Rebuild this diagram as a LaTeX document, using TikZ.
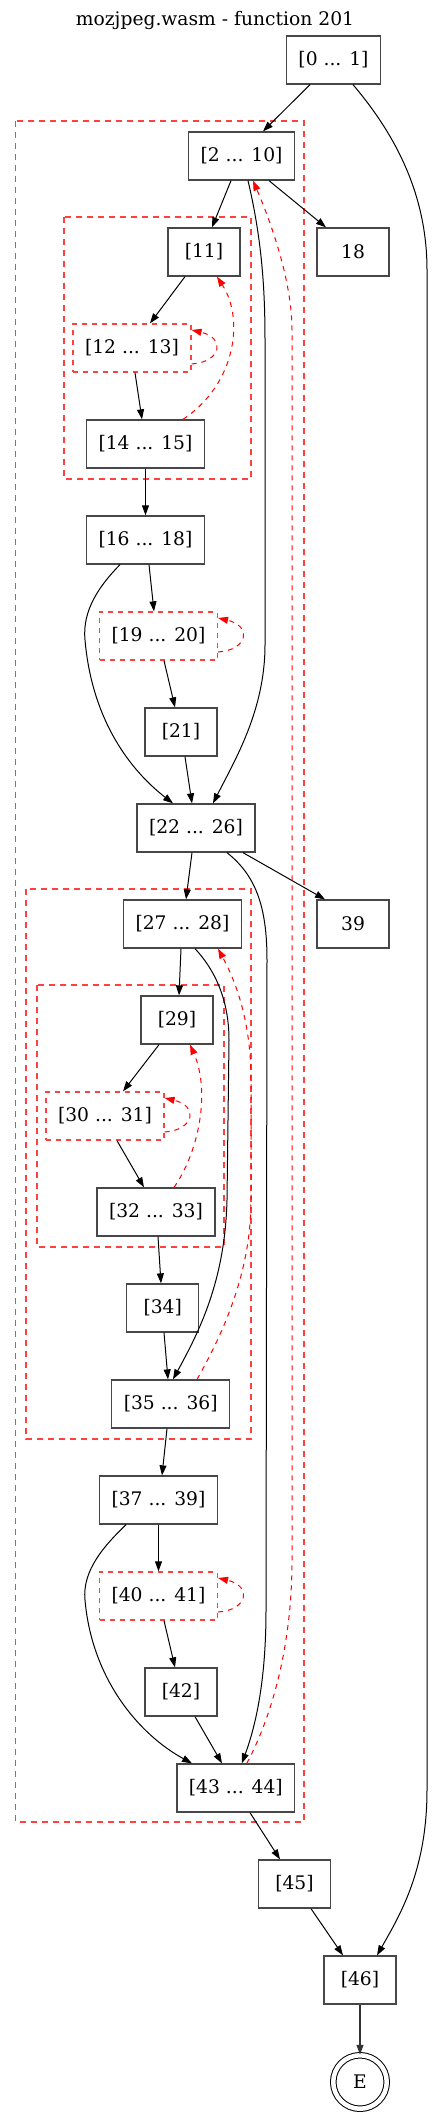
\documentclass[tikz,border=0pt]{standalone}
\usepackage{fontspec}
\setmainfont{DejaVu Serif}
\usetikzlibrary{arrows.meta}
\definecolor{clusterred}{RGB}{255,64,64}
\tikzset{block/.style={rectangle,draw=black!72,line width=1.3pt,minimum width=72pt,minimum height=48pt,inner xsep=12pt,inner ysep=0pt}}
\tikzset{loopblock/.style={block,draw=clusterred,dash pattern=on 5pt off 5pt}}
\tikzset{cluster/.style={clusterred,line width=1.3pt,dash pattern=on 6pt off 5pt}}
\tikzset{flow/.style={->,>={Triangle[length=10pt,width=7pt]},line width=1pt}}
\tikzset{back/.style={flow,red,dash pattern=on 5pt off 5pt}}

\begin{document}
\begin{tikzpicture}[x=1pt,y=-1pt,font=\fontsize{18.7}{22}\selectfont]
        \useasboundingbox (0,0) rectangle (432,2116);
        % draw the clusters
        \draw[cluster] (15.7,121) rectangle (304,1822);
        \draw[cluster] (64,217) rectangle (251,479);
        \draw[cluster] (26,889) rectangle (251,1439);
        \draw[cluster] (37,985) rectangle (224,1247);

        \node (title) at (215,20) {mozjpeg.wasm - function 201};
        % draw the blocks
        \node[block] (block0) at (333.5,60) {[0 ... 1]};
        \node[block] (block2) at (241.5,156) {[2 ... 10]};
        \node[block] (block11) at (204,252) {[11]};
        \node[block] (block18) at (353,252) {18};
        \node[loopblock] (block12) at (132,348) {[12 ... 13]};
        \node[block] (block14) at (145.5,444) {[14 ... 15]};
        \node[block] (block16) at (145.5,540) {[16 ... 18]};
        \node[loopblock] (block19) at (158.5,636) {[19 ... 20]};
        \node[block] (block21) at (181,732) {[21]};
        \node[block] (block22) at (196,828) {[22 ... 26]};
        \node[block] (block27) at (182.5,924) {[27 ... 28]};
        \node[block] (block39) at (353,924) {39};
        \node[block] (block29) at (177,1020) {[29]};
        \node[loopblock] (block30) at (105,1116) {[30 ... 31]};
        \node[block] (block32) at (156,1212) {[32 ... 33]};
        \node[block] (block34) at (162.7,1308) {[34]};
        \node[block] (block35) at (170.7,1404) {[35 ... 36]};
        \node[block] (block37) at (158.5,1500) {[37 ... 39]};
        \node[loopblock] (block40) at (158.5,1596) {[40 ... 41]};
        \node[block] (block42) at (181,1692) {[42]};
        \node[block] (block43) at (235.8,1788) {[43 ... 44]};
        \node[block] (block45) at (294.5,1884) {[45]};
        \node[block] (block46) at (360,1980) {[46]};
        \node[circle,draw,line width=1pt,double,double distance=4.5pt,minimum size=53.5pt,inner sep=0pt] (exit) at (360,2082) {E};

        % forward edges
        \draw[flow] ([xshift=-23.5pt]block0.south) -- ([xshift=21.5pt]block2.north);
        \draw[flow] ([xshift=19.5pt]block0.south) .. controls (400,140) and (427,200) .. (427,270) -- (427,1790) .. controls (427,1870) and (400,1915) .. ([xshift=17pt]block46.north);
        \draw[flow] ([xshift=-10.5pt]block2.south) -- ([xshift=8pt]block11.north);
        \draw[flow] ([xshift=27.5pt]block2.south) -- ([xshift=-27pt]block18.north);
        \draw[flow] ([xshift=6.5pt]block2.south) .. controls (262,240) and (265,290) .. (265,340) -- (265,645) .. controls (265,710) and (235,760) .. ([xshift=17pt]block22.north);
        \draw[flow] ([xshift=-19pt]block11.south) -- ([xshift=18pt]block12.north);
        \draw[flow] ([xshift=3pt]block12.south) -- ([xshift=-3.5pt]block14.north);
        \draw[flow] (block14) -- (block16);
        \draw[flow] ([xshift=3.5pt]block16.south) -- ([xshift=-4.5pt]block19.north);
        \draw[flow] ([xshift=-25.5pt]block16.south) .. controls (100,585) and (82,610) .. (85,640) .. controls (92,720) and (130,770) .. ([xshift=-23pt]block22.north);
        \draw[flow] ([xshift=5.5pt]block19.south) -- ([xshift=-6pt]block21.north);
        \draw[flow] ([xshift=4pt]block21.south) -- ([xshift=-4pt]block22.north);
        \draw[flow] ([xshift=-4pt]block22.south) -- ([xshift=3.5pt]block27.north);
        \draw[flow] ([xshift=47pt]block22.south) -- ([xshift=-28pt]block39.north);
        \draw[flow] ([xshift=31pt]block22.south) .. controls (255,875) and (267,905) .. (267,960) -- (266,1610) .. controls (266,1680) and (256,1725) .. ([xshift=6pt]block43.north);
        \draw[flow] ([xshift=-1.5pt]block27.south) -- ([xshift=2pt]block29.north);
        \draw[flow] ([xshift=12.5pt]block27.south) .. controls (215,970) and (229,1000) .. (229,1040) -- (227,1200) .. controls (225,1280) and (200,1330) .. ([xshift=2.3pt]block35.north);
        \draw[flow] ([xshift=-18pt]block29.south) -- ([xshift=18pt]block30.north);
        \draw[flow] ([xshift=12pt]block30.south) -- ([xshift=-12pt]block32.north);
        \draw[flow] ([xshift=2pt]block32.south) -- ([xshift=-1.7pt]block34.north);
        \draw[flow] ([xshift=1.3pt]block34.south) -- ([xshift=-2.7pt]block35.north);
        \draw[flow] ([xshift=-3.7pt]block35.south) -- ([xshift=3.5pt]block37.north);
        \draw[flow] (block37) -- (block40);
        \draw[flow] ([xshift=-32.5pt]block37.south) .. controls (105,1545) and (82,1570) .. (85,1600) .. controls (92,1680) and (140,1735) .. ([xshift=-43.8pt]block43.north);
        \draw[flow] ([xshift=5.5pt]block40.south) -- ([xshift=-6pt]block42.north);
        \draw[flow] ([xshift=14pt]block42.south) -- ([xshift=-13.8pt]block43.north);
        \draw[flow] ([xshift=14.2pt]block43.south) -- ([xshift=-14.5pt]block45.north);
        \draw[flow] ([xshift=16.5pt]block45.south) -- ([xshift=-17pt]block46.north);
        \draw[flow,line width=1.3pt,black!80] (block46) -- (exit);

        % back edges and self loops
        \draw[back] ([xshift=37.5pt]block14.north) .. controls (235,385) and (245,320) .. ([xshift=13pt]block11.south);
        \draw[back] ([xshift=11pt]block43.north) .. controls (270,1720) and (292,1650) .. (292,1560) -- (292,330) .. controls (292,280) and (270,220) .. ([xshift=11.5pt]block2.south);
        \draw[back] ([xshift=26.3pt]block35.north) .. controls (225,1330) and (251,1270) .. (251,1200) -- (251,1080) .. controls (251,1020) and (235,980) .. ([xshift=35.5pt]block27.south);
        \draw[back] ([xshift=18pt]block32.north) .. controls (200,1150) and (210,1090) .. ([xshift=13pt]block29.south);
        \foreach \b in {block12,block19,block30,block40}
            \draw[back] ([yshift=-16pt]\b.east) .. controls +(30,-2) and +(34,8) .. ([yshift=18pt]\b.east);
\end{tikzpicture}
\end{document}
